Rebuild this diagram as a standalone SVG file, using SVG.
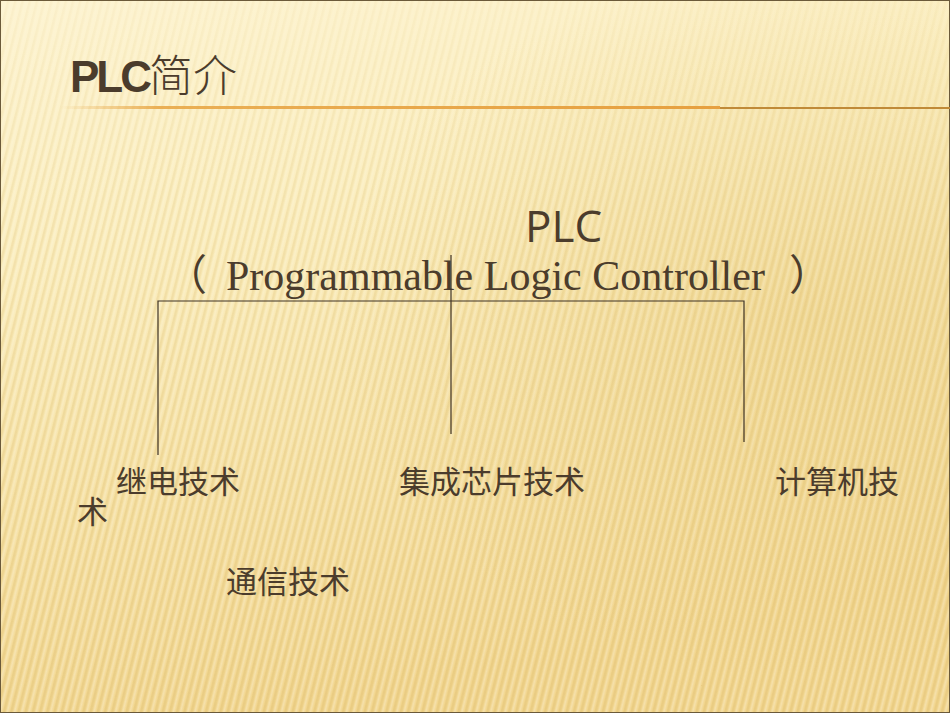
<svg xmlns="http://www.w3.org/2000/svg" width="950" height="713" viewBox="0 0 950 713">
<defs>
<linearGradient id="bg" x1="0" y1="0" x2="0.25" y2="1">
<stop offset="0" stop-color="#fdf4d2"/>
<stop offset="0.35" stop-color="#fbeebf"/>
<stop offset="0.7" stop-color="#f6e1a4"/>
<stop offset="1" stop-color="#f2d68f"/>
</linearGradient>
<radialGradient id="shade" cx="0.85" cy="0.45" r="0.5">
<stop offset="0" stop-color="#e8c978" stop-opacity="0.45"/>
<stop offset="1" stop-color="#e8c978" stop-opacity="0"/>
</radialGradient>
<pattern id="stripes" width="7" height="20" patternUnits="userSpaceOnUse" patternTransform="rotate(14)">
<rect x="0" y="0" width="2.5" height="20" fill="#d9b868" opacity="0.3"/>
<rect x="3.5" y="0" width="2" height="20" fill="#ffffff" opacity="0.25"/>
</pattern>
<linearGradient id="stripeFade" x1="0" y1="0" x2="0" y2="1">
<stop offset="0" stop-color="#fff" stop-opacity="0.2"/>
<stop offset="0.3" stop-color="#fff" stop-opacity="0.7"/>
<stop offset="1" stop-color="#fff" stop-opacity="1"/>
</linearGradient>
<mask id="stripeMask"><rect width="950" height="713" fill="url(#stripeFade)"/></mask>
<linearGradient id="rule" x1="0" y1="0" x2="1" y2="0">
<stop offset="0" stop-color="#e8a848" stop-opacity="0"/>
<stop offset="0.15" stop-color="#e8a848" stop-opacity="0.9"/>
<stop offset="1" stop-color="#e6a040"/>
</linearGradient>
<style>
.t{fill:#4b3c2c}
.cn{font-family:"Noto Sans CJK SC","Noto Sans CJK TC",sans-serif;font-size:31px;fill:#4b3c2c}
.ln{stroke:#3e3224;stroke-width:1.2;fill:none}
</style>
</defs>
<rect width="950" height="713" fill="url(#bg)"/>
<rect width="950" height="713" fill="url(#shade)"/>
<rect width="950" height="713" fill="url(#stripes)" mask="url(#stripeMask)"/>
<rect x="0.5" y="0.5" width="949" height="712" fill="none" stroke="#6b5a3a" stroke-width="1"/>

<g id="title">
<text x="70" y="92" class="t" font-family="Liberation Sans, Arial, sans-serif" font-weight="bold" font-size="44"><tspan letter-spacing="-3">PLC</tspan><tspan font-family="Noto Sans CJK SC, sans-serif" font-weight="300">简介</tspan></text>
<rect x="60" y="106" width="660" height="3" fill="url(#rule)"/>
<rect x="720" y="107" width="230" height="2" fill="#c08a38"/>
</g>

<g id="root">
<text x="525" y="242" class="t" font-family="Open Sans, sans-serif" font-size="44">PLC</text>
<text x="165" y="290" class="t" font-family="Noto Sans CJK SC, sans-serif" font-size="42">（</text>
<text x="226" y="290" class="t" font-family="Liberation Serif, Times New Roman, serif" font-size="42">Programmable Logic Controller</text>
<text x="789" y="290" class="t" font-family="Noto Sans CJK SC, sans-serif" font-size="42">）</text>
</g>

<g id="connectors">
<path class="ln" d="M158 455 V301 H744 V442"/>
<path class="ln" d="M451 255 V434"/>
</g>

<g id="relay"><text x="116" y="493" class="cn">继电技术</text><text x="77" y="523" class="cn">术</text></g>
<g id="chip"><text x="399" y="493" class="cn">集成芯片技术</text></g>
<g id="computer"><text x="775" y="493" class="cn">计算机技</text></g>
<g id="comm"><text x="226" y="593" class="cn">通信技术</text></g>
</svg>
